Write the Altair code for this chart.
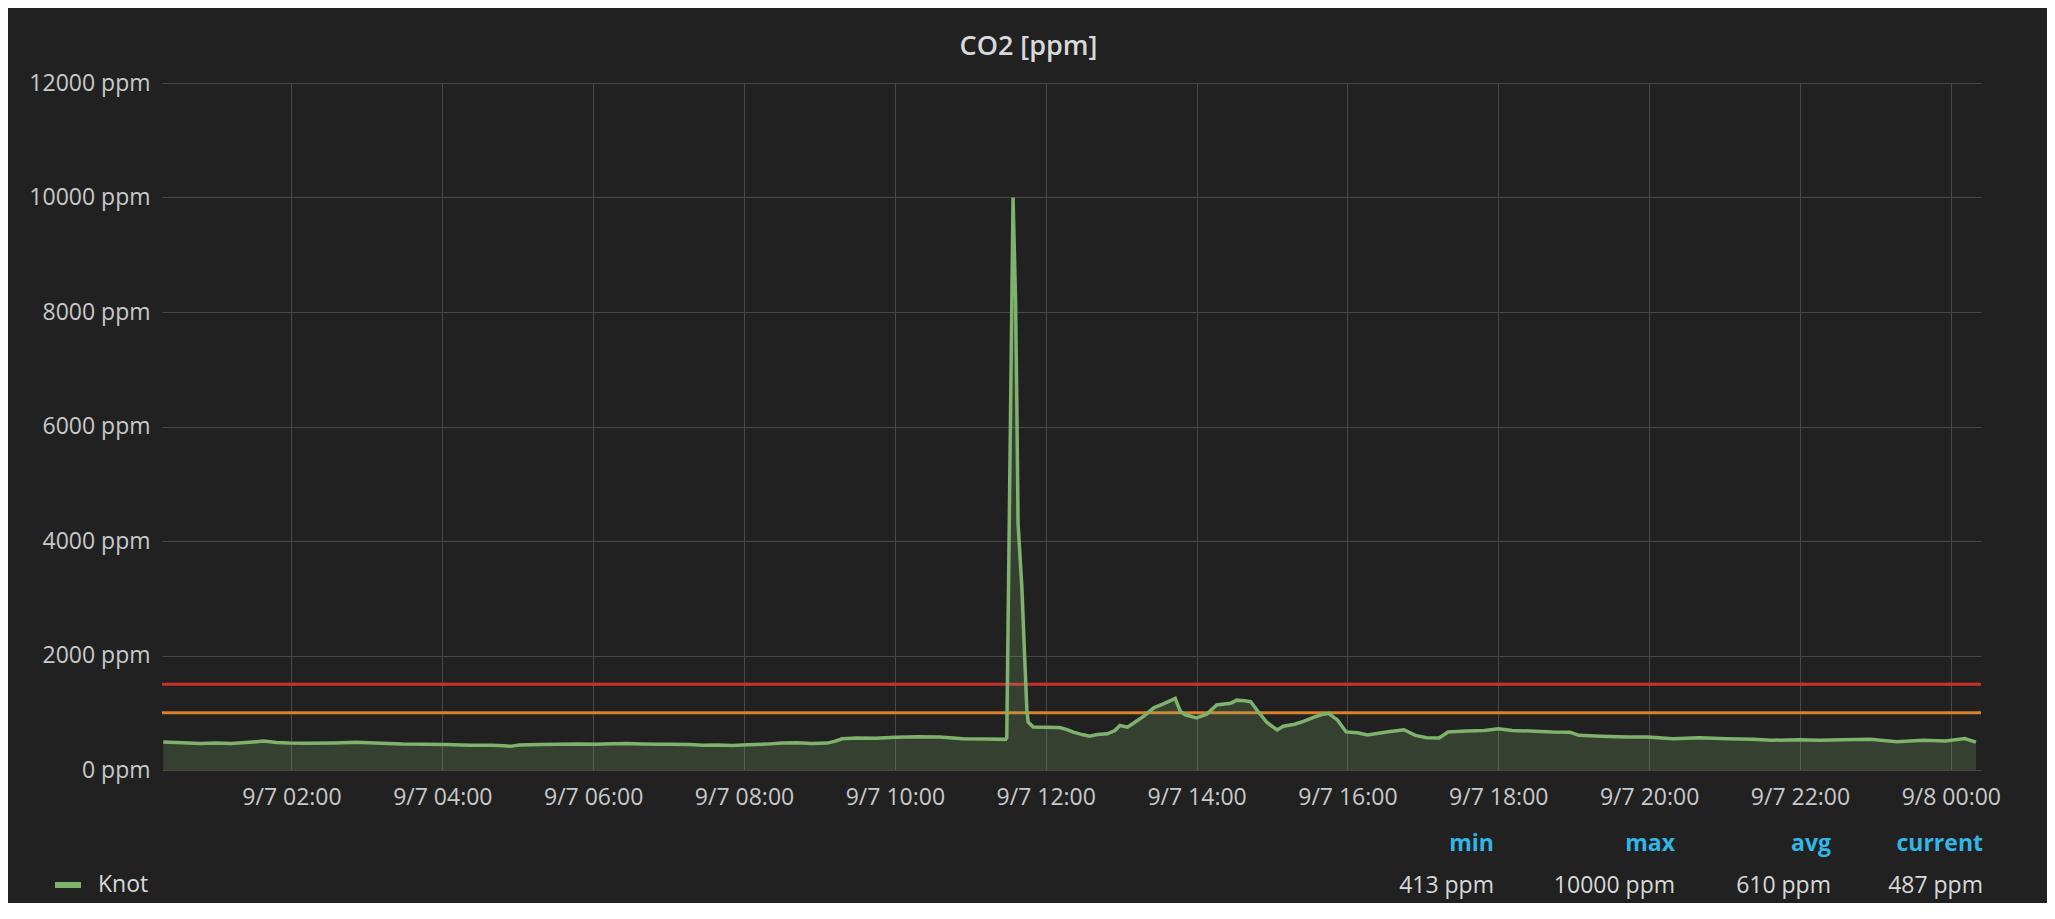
import altair as alt
import pandas as pd

# ---------------- data ----------------
# minutes after 2017-09-07 00:00
minutes = [18, 33, 47, 60, 72, 87, 98, 108, 118, 132, 154, 172, 186, 208, 226, 243, 262, 280, 289, 294,
           301, 318, 333, 348, 362, 375, 387, 399, 412, 423, 437, 447, 459, 471, 483, 498, 510, 522, 534, 546,
           552, 558, 570, 585, 600, 618, 636, 654, 672, 688, 689, 694, 696, 697, 698, 701, 703, 705, 706, 710,
           718, 731, 737, 742, 749, 755, 761, 769, 775, 779, 785, 790, 798, 806, 814, 821, 823, 827, 831, 840,
           848, 856, 867, 872, 878, 883, 888, 896, 904, 909, 918, 925, 933, 939, 945, 952, 959, 968, 976, 991,
           1005, 1014, 1023, 1033, 1040, 1055, 1069, 1080, 1091, 1105, 1123, 1137, 1144, 1162, 1183, 1199, 1219, 1240, 1262, 1283,
           1297, 1319, 1336, 1354, 1376, 1397, 1418, 1436, 1451, 1460]
co2 = [490, 478, 462, 470, 461, 485, 505, 482, 473, 468, 473, 484, 470, 452, 450, 445, 432, 432, 425, 413,
       438, 445, 450, 455, 450, 458, 461, 455, 450, 448, 444, 432, 438, 428, 440, 452, 470, 478, 462, 470,
       500, 545, 560, 555, 572, 580, 575, 548, 540, 535, 560, 10000, 8200, 6400, 4300, 3200, 2100, 1050, 840, 750,
       748, 741, 705, 662, 619, 590, 619, 633, 690, 777, 748, 820, 942, 1086, 1158, 1230, 1250, 1030, 964, 910,
       975, 1135, 1165, 1220, 1209, 1194, 1048, 830, 700, 765, 800, 849, 921, 964, 990, 874, 665, 650, 610, 663,
       703, 605, 565, 560, 663, 680, 692, 720, 692, 680, 663, 660, 605, 588, 576, 576, 548, 565, 548, 536,
       519, 530, 519, 530, 536, 495, 519, 507, 548, 487]
series_name = "Knot"

threshold_values = [1500, 1000]
threshold_levels = ["critical", "warning"]

stat_names = ["min", "max", "avg", "current"]
stat_values = ["413 ppm", "10000 ppm", "610 ppm", "487 ppm"]

y_ticks = [0, 2000, 4000, 6000, 8000, 10000, 12000]
# x tick hours (hours after 2017-09-07 00:00)
x_tick_hours = [2, 4, 6, 8, 10, 12, 14, 16, 18, 20, 22, 24]

# ---------------- styling / layout ----------------
BG = "#212121"
GRID = "#484848"
LABEL = "#c8c9ca"
TEXT = "#d8d9da"
GREEN = "#7eb26d"
FONT = "Open Sans"
stat_x = [1332, 1513, 1669, 1821]   # right edges, relative to plot left
head_y, val_y = 761, 803            # relative to plot top


def dt(h, m=0):
    day = 7 + h // 24
    return alt.DateTime(year=2017, month=9, date=int(day), hours=int(h % 24), minutes=int(m))


base_ts = pd.Timestamp("2017-09-07 00:00")
df = pd.DataFrame({
    "time": [(base_ts + pd.Timedelta(minutes=m)).strftime("%Y-%m-%dT%H:%M:%S") for m in minutes],
    "co2": co2,
    "series": series_name,
})
thr_df = pd.DataFrame({"value": threshold_values, "level": threshold_levels})

x_enc = alt.X(
    "time:T",
    scale=alt.Scale(domain=[dt(0, 17), dt(24, 24)], nice=False),
    axis=alt.Axis(format="%-m/%-d %H:%M", values=[dt(h) for h in x_tick_hours],
                  grid=True, gridColor=GRID, domain=False, ticks=False,
                  labelColor=LABEL, labelFont=FONT, labelFontSize=23, labelPadding=16,
                  labelFlush=False, labelOverlap=False, title=None),
)
y_enc = alt.Y(
    "co2:Q",
    scale=alt.Scale(domain=[0, 12000], nice=False),
    axis=alt.Axis(values=y_ticks, labelExpr="datum.value + ' ppm'",
                  grid=True, gridColor=GRID, domain=False, ticks=False,
                  labelColor=LABEL, labelFont=FONT, labelFontSize=23, labelPadding=12, title=None),
)

rules = alt.Chart(thr_df).mark_rule(strokeWidth=3).encode(
    y=alt.Y("value:Q", scale=alt.Scale(domain=[0, 12000], nice=False)),
    color=alt.Color("level:N", scale=alt.Scale(domain=threshold_levels, range=["#c9302c", "#d9822b"]), legend=None),
)

area = alt.Chart(df).mark_area(color=GREEN, opacity=0.22).encode(x=x_enc, y=y_enc)

line = alt.Chart(df).mark_line(strokeWidth=3.5).encode(
    x=x_enc, y=y_enc,
    color=alt.Color("series:N", scale=alt.Scale(domain=[series_name], range=[GREEN]),
                    legend=alt.Legend(orient="none", legendX=-110, legendY=786, title=None,
                                      symbolType="stroke", symbolStrokeWidth=6, symbolSize=676,
                                      labelFontSize=23, labelFont=FONT, labelColor=TEXT,
                                      labelOffset=14, padding=0)),
)

texts = []
for i in range(len(stat_names)):
    texts.append(
        alt.Chart(pd.DataFrame({"t": [stat_names[i]]})).mark_text(
            align="right", baseline="middle", font=FONT, fontSize=23, fontWeight="bold", color="#33b5e5"
        ).encode(text="t:N", x=alt.value(stat_x[i]), y=alt.value(head_y))
    )
    texts.append(
        alt.Chart(pd.DataFrame({"t": [stat_values[i]]})).mark_text(
            align="right", baseline="middle", font=FONT, fontSize=23, color=TEXT
        ).encode(text="t:N", x=alt.value(stat_x[i]), y=alt.value(val_y))
    )

chart = alt.layer(rules, area, line, *texts).resolve_scale(color="independent").properties(
    width=1819,
    height=687,
    autosize=alt.AutoSizeParams(type="none"),
    padding={"left": 154, "top": 75, "right": 66, "bottom": 133},
    background=BG,
    title=alt.TitleParams("CO2 [ppm]", font=FONT, fontSize=27, fontWeight=600, color=TEXT,
                          anchor="middle", dx=-43, dy=4, offset=15),
).configure_view(stroke=None)

chart.save("out.html", embed_options={"renderer": "svg", "actions": False})
